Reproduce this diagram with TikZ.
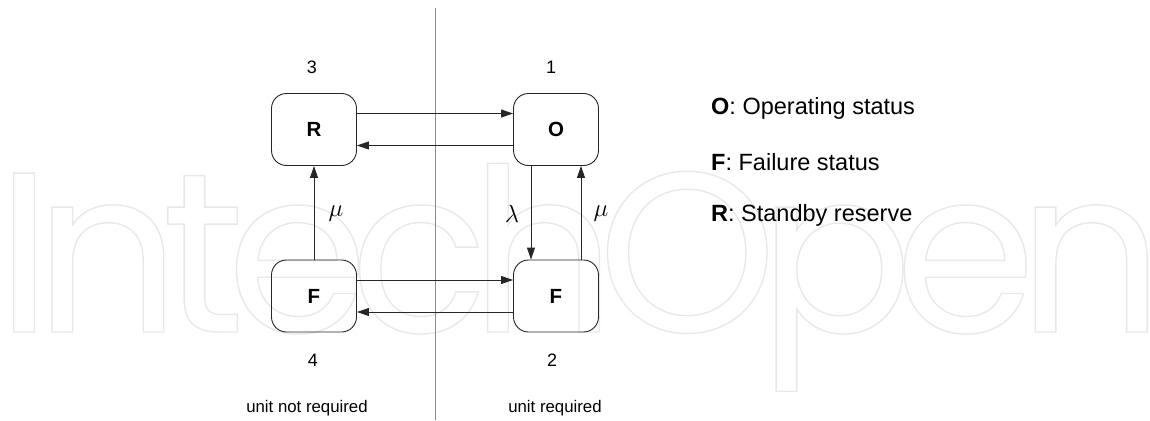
\documentclass[tikz,border=0pt]{standalone}
\usepackage{fontspec}
\setmainfont{Liberation Sans}
\newfontfamily\wmfont[LetterSpace=-8]{Poppins}
\usetikzlibrary{arrows.meta}

\begin{document}
\begin{tikzpicture}[x=1pt,y=-1pt,
  state/.style={draw=black!85, line width=0.9pt, rounded corners=15pt,
    minimum width=85pt, minimum height=72pt, inner sep=0pt,
    font=\fontsize{20.5}{24}\selectfont\bfseries},
  trans/.style={draw=black!85, line width=0.9pt,
    -{Triangle[length=12pt,width=8pt]}},
  num/.style={font=\fontsize{18}{22}\selectfont, inner sep=0pt},
  rate/.style={font=\fontsize{25}{30}\selectfont, inner sep=0pt},
  side/.style={font=\fontsize{16.8}{20}\selectfont, inner sep=0pt},
  legend/.style={font=\fontsize{23.5}{28}\selectfont, anchor=west, inner sep=0pt},
  divider/.style={draw=black!45, line width=0.8pt}
]
\useasboundingbox (0,0) rectangle (1150,420);

% faint outlined wordmark in the background
\node[anchor=base west, inner sep=0pt, text=black!9] (mark) at (-4,332)
  {\wmfont\fontsize{228}{228}\selectfont\special{pdf:literal direct 1 Tr 1.4 w}IntechOpen\special{pdf:literal direct 0 Tr}};

% separator between the two halves
\coordinate (divtop) at (435,8);
\coordinate (divbot) at (435,420);
\draw[divider] (divtop) -- (divbot);

% states
\node[state] (R)  at (314,129.5) {R};
\node[state] (O)  at (556,129.5) {O};
\node[state] (F4) at (314,296)   {F};
\node[state] (F2) at (556,296)   {F};

% state numbers
\node[num] (n3) at (312,67)  {3};
\node[num] (n1) at (551,67)  {1};
\node[num] (n4) at (313,360) {4};
\node[num] (n2) at (552,360) {2};

% transitions
\draw[trans] ([yshift=16pt]R.east) -- ([yshift=16pt]O.west);
\draw[trans] ([yshift=-16pt]O.west) -- ([yshift=-16pt]R.east);
\draw[trans] ([yshift=16pt]F4.east) -- ([yshift=16pt]F2.west);
\draw[trans] ([yshift=-16pt]F2.west) -- ([yshift=-16pt]F4.east);
\draw[trans] (F4.north) -- (R.south);
\draw[trans] ([xshift=-25pt]O.south) -- ([xshift=-25pt]F2.north);
\draw[trans] ([xshift=25pt]F2.north) -- ([xshift=25pt]O.south);

% rates
\node[rate] (mu1) at (336,214) {$\mu$};
\node[rate] (lam) at (512,214) {$\lambda$};
\node[rate] (mu2) at (601,214) {$\mu$};

% side captions
\node[side] (cl) at (307,408) {unit not required};
\node[side] (cr) at (555,408) {unit required};

% legend
\node[legend] (lo) at (711,108) {\textbf{O}: Operating status};
\node[legend] (lf) at (711,162) {\textbf{F}: Failure status};
\node[legend] (lr) at (711,215) {\textbf{R}: Standby reserve};
\end{tikzpicture}
\end{document}
